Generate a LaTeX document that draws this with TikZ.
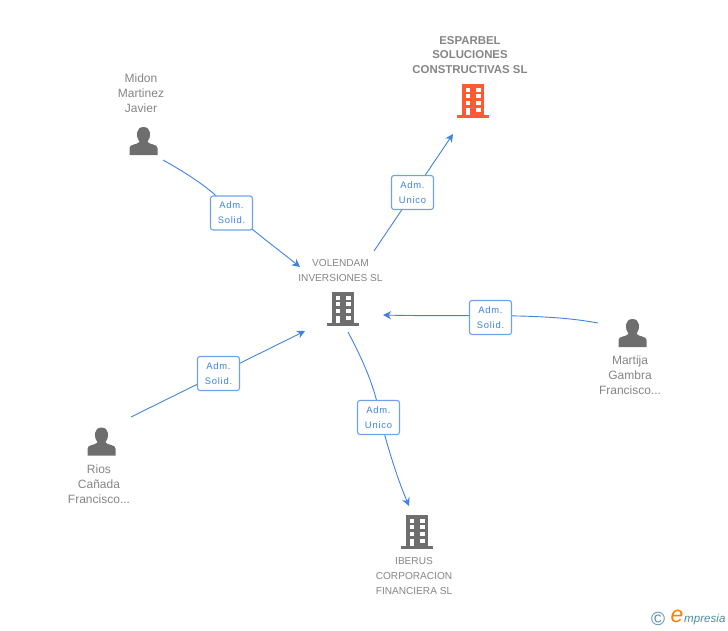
\documentclass[tikz,border=0pt]{standalone}
\usepackage{fontspec}
\setmainfont{Liberation Sans}
\usetikzlibrary{arrows.meta}
\definecolor{linkblue}{HTML}{3F83E0}
\definecolor{boxblue}{HTML}{6FA3E8}
\definecolor{txtgrey}{HTML}{858585}
\definecolor{icongrey}{HTML}{6E6E6E}
\definecolor{iconorange}{HTML}{FF5A32}
\definecolor{brandteal}{HTML}{4F8CA0}
\tikzset{
  x=1pt,y=-1pt,
  namelabel/.style={text=txtgrey,font=\fontsize{12}{15}\selectfont,align=center,inner sep=0pt},
  capslabel/.style={namelabel,font=\fontsize{10.1}{15}\selectfont},
  boldlabel/.style={namelabel,font=\fontsize{11.4}{14.6}\selectfont\bfseries},
  rolebox/.style={draw=boxblue,line width=1.1pt,rounded corners=2.5pt,fill=white,text=linkblue,
    font=\fontsize{9.4}{15}\selectfont\addfontfeature{LetterSpace=8},align=center,minimum width=42pt,minimum height=34pt,inner sep=0pt,text depth=0pt},
  link/.style={draw=linkblue,line width=0.9pt,-{Stealth[length=8pt,width=8pt,inset=2.5pt]}},
  iconanchor/.style={minimum width=30pt,minimum height=34pt,inner sep=0pt},
  pics/building/.style={code={
    \fill[#1] (-11,-17) rectangle (11,14);
    \fill[#1] (-16,13.7) rectangle (16,16.7);
    \foreach \yy in {-13,-6.7,0.3}{
      \fill[white] (-7.5,\yy) rectangle (-2.8,\yy+4);
      \fill[white] (2.8,\yy) rectangle (7.5,\yy+4);
    }
    \fill[white] (-7.5,6.7) rectangle (-2.8,13.7);
    \fill[white] (2.8,6.7) rectangle (7.5,11);
  }},
  pics/person/.style={code={
    \fill[#1] (-14,14) -- (-14,7) .. controls (-14,3) and (-7,4) .. (-4,1)
      .. controls (-8,-4) and (-8,-14) .. (0,-14)
      .. controls (8,-14) and (8,-4) .. (4,1)
      .. controls (7,4) and (14,3) .. (14,7) -- (14,14) -- cycle;
  }},
}
\begin{document}
\begin{tikzpicture}
\useasboundingbox (0,0) rectangle (728,630);

% connector ends
\coordinate (midonEnd) at (163,160);
\coordinate (volA) at (300,267);
\coordinate (volB) at (374,251);
\coordinate (espA) at (453,134);
\coordinate (marEnd) at (598,323);
\coordinate (volC) at (383,315);
\coordinate (riosEnd) at (131,417);
\coordinate (volD) at (305,331);
\coordinate (volE) at (348,332);
\coordinate (ibeA) at (409,506);

% connectors
\draw[link] (midonEnd) .. controls (195,178) and (215,192) .. (232,212) .. controls (252,230) and (275,247) .. (volA);
\draw[link] (volB) -- (espA);
\draw[link] (marEnd) .. controls (540,312) and (460,317) .. (volC);
\draw[link] (riosEnd) -- (volD);
\draw[link] (volE) .. controls (368,370) and (376,392) .. (382,425) .. controls (390,455) and (398,480) .. (ibeA);

% role boxes
\node[rolebox] (r1) at (231.5,213) {Adm.\\Solid.};
\node[rolebox] (r2) at (412.5,192.5) {Adm.\\Unico};
\node[rolebox] (r3) at (490.5,317.5) {Adm.\\Solid.};
\node[rolebox] (r4) at (218.5,373.5) {Adm.\\Solid.};
\node[rolebox] (r5) at (378.5,417.5) {Adm.\\Unico};

% icons
\node[iconanchor] (iEsp) at (473,101) {};
\pic at (iEsp) {building=iconorange};
\node[iconanchor] (iVol) at (343,309) {};
\pic at (iVol) {building=icongrey};
\node[iconanchor] (iIbe) at (417,532) {};
\pic at (iIbe) {building=icongrey};
\node[iconanchor] (iMid) at (143.5,141) {};
\pic at (iMid) {person=icongrey};
\node[iconanchor] (iMar) at (632.5,333) {};
\pic at (iMar) {person=icongrey};
\node[iconanchor] (iRio) at (101.5,441.5) {};
\pic at (iRio) {person=icongrey};

% names
\node[boldlabel] (nEsp) at (470,55) {ESPARBEL\\SOLUCIONES\\CONSTRUCTIVAS SL};
\node[capslabel] (nVol) at (340.5,271) {VOLENDAM\\INVERSIONES SL};
\node[namelabel] (nMid) at (141,93) {Midon\\Martinez\\Javier};
\node[namelabel] (nMar) at (630,375) {Martija\\Gambra\\Francisco...};
\node[namelabel] (nRio) at (99,484) {Rios\\Cañada\\Francisco...};
\node[capslabel] (nIbe) at (414,576) {IBERUS\\CORPORACION\\FINANCIERA SL};

% mark
\node[inner sep=0pt,text=brandteal,font=\fontsize{19}{19}\selectfont] (copy) at (658,618.5) {©};
\node[inner sep=0pt,text=orange,font=\fontsize{23}{23}\selectfont\itshape] (bigE) at (677,616) {e};
\node[inner sep=0pt,anchor=west,text=brandteal,font=\fontsize{11.6}{12}\selectfont\itshape] (brand) at (684,619) {mpresia};
\end{tikzpicture}
\end{document}
